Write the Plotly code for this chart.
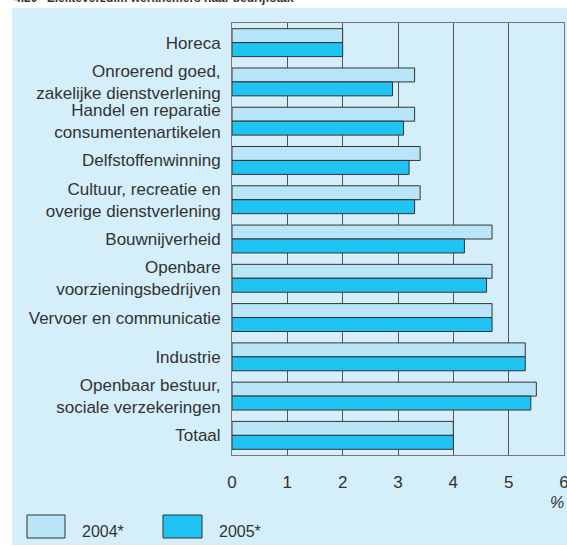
import plotly.graph_objects as go

categories = [
    "Horeca",
    "Onroerend goed,<br>zakelijke dienstverlening",
    "Handel en reparatie<br>consumentenartikelen",
    "Delfstoffenwinning",
    "Cultuur, recreatie en<br>overige dienstverlening",
    "Bouwnijverheid",
    "Openbare<br>voorzieningsbedrijven",
    "Vervoer en communicatie",
    "Industrie",
    "Openbaar bestuur,<br>sociale verzekeringen",
    "Totaal",
]
values_2004 = [2.0, 3.3, 3.3, 3.4, 3.4, 4.7, 4.7, 4.7, 5.3, 5.5, 4.0]
values_2005 = [2.0, 2.9, 3.1, 3.2, 3.3, 4.2, 4.6, 4.7, 5.3, 5.4, 4.0]
series_names = ["2004*", "2005*"]
x_ticks = [0, 1, 2, 3, 4, 5, 6]

c2004 = "#b9e5f9"
c2005 = "#1fc4f3"
panel = "#d4eefa"
font_family = "Liberation Sans, Arial, sans-serif"
text_col = "#333333"

fig = go.Figure()
fig.add_trace(go.Bar(y=categories, x=values_2004, name=series_names[0], orientation="h",
                     marker=dict(color=c2004, line=dict(color="#333333", width=1))))
fig.add_trace(go.Bar(y=categories, x=values_2005, name=series_names[1], orientation="h",
                     marker=dict(color=c2005, line=dict(color="#333333", width=1))))

W, H = 567, 547
ml, mr, mt, mb = 232, 3, 23, 92
pw, ph = W - ml - mr, H - mt - mb

def px_x(p):
    return (p - ml) / pw

def px_y(p):
    return (H - mb - p) / ph

shapes = [
    dict(type="rect", xref="paper", yref="paper", layer="below",
         x0=px_x(12), x1=px_x(600), y0=px_y(545), y1=px_y(8),
         fillcolor=panel, line=dict(width=0)),
]
annotations = [
    dict(text="<b>4.20   Ziekteverzuim werknemers naar bedrijfstak</b>", xref="paper", yref="paper",
         x=px_x(12), y=px_y(7), xanchor="left", yanchor="bottom", showarrow=False,
         font=dict(size=12, color=text_col, family=font_family)),
    dict(text="<i>%</i>", xref="paper", yref="paper", x=px_x(557), y=px_y(502),
         xanchor="center", yanchor="middle", showarrow=False,
         font=dict(size=16, color=text_col, family=font_family)),
]
legend_boxes = [(27, 65, c2004, 80), (163, 202, c2005, 217)]
for (x0, x1, col, tx), name in zip(legend_boxes, series_names):
    shapes.append(dict(type="rect", xref="paper", yref="paper",
                       x0=px_x(x0), x1=px_x(x1), y0=px_y(538), y1=px_y(515),
                       fillcolor=col, line=dict(color="#333333", width=1)))
    annotations.append(dict(text=name, xref="paper", yref="paper", x=px_x(tx), y=px_y(531),
                            xanchor="left", yanchor="middle", showarrow=False,
                            font=dict(size=16, color=text_col, family=font_family)))

fig.update_layout(
    width=W, height=H,
    margin=dict(l=ml, r=mr, t=mt, b=mb, pad=0, autoexpand=False),
    paper_bgcolor="white", plot_bgcolor="white",
    barmode="group", bargap=0.29, bargroupgap=0,
    showlegend=False,
    font=dict(family=font_family, size=16, color=text_col),
    shapes=shapes, annotations=annotations,
    xaxis=dict(range=[0, 6], tickvals=x_ticks, ticktext=[str(t) for t in x_ticks],
               showgrid=True, gridcolor="#555555", gridwidth=1,
               showline=True, linecolor="#777777", linewidth=1, mirror=True,
               zeroline=False, ticks="", ticklabelstandoff=12, automargin=False,
               ticklabeloverflow="allow",
               tickfont=dict(size=17, color=text_col)),
    yaxis=dict(autorange="reversed", showgrid=False,
               showline=True, linecolor="#777777", linewidth=1, mirror=True,
               ticks="", ticklabelstandoff=7, automargin=False,
               tickfont=dict(size=17, color=text_col)),
)

fig.write_html(
    "out.html",
    config={"displayModeBar": False},
    post_script="document.body.style.margin='0';document.body.style.overflow='hidden';",
)
